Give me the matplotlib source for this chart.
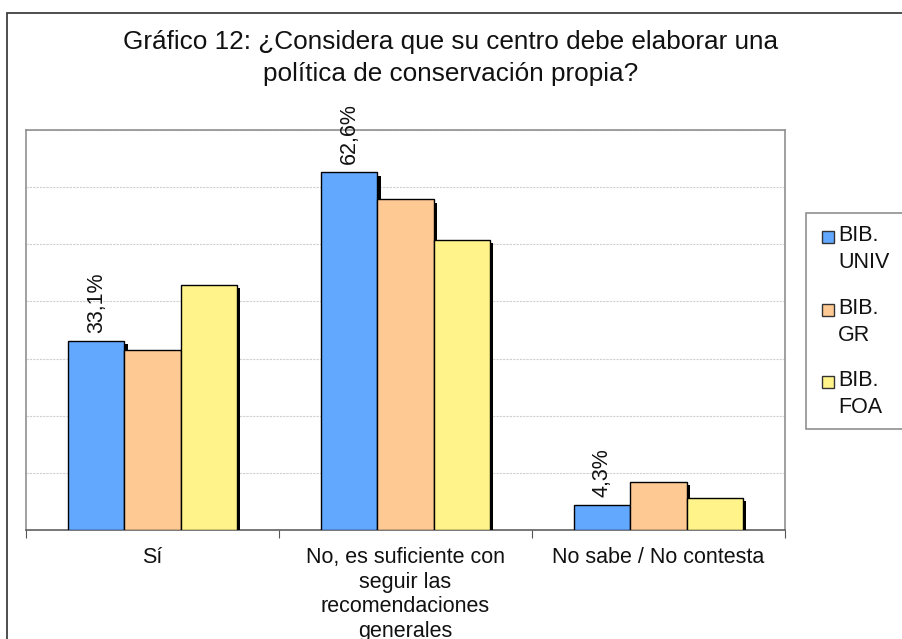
import matplotlib
matplotlib.use("Agg")
import matplotlib.pyplot as plt
import matplotlib.patheffects as pe
from matplotlib.patches import Rectangle
import numpy as np

plt.rcParams['font.family'] = ['Liberation Sans', 'DejaVu Sans']

title = "Gráfico 12: ¿Considera que su centro debe elaborar una\npolítica de conservación propia?"
categories = ["Sí", "No, es suficiente con\nseguir las\nrecomendaciones\ngenerales", "No sabe / No contesta"]
series_names = ["BIB.\nUNIV", "BIB.\nGR", "BIB.\nFOA"]
univ = [33.1, 62.6, 4.3]
gr = [31.5, 57.9, 8.4]
foa = [42.9, 50.8, 5.6]
label_series = [True, False, False]
colors = ["#62A8FF", "#FFC994", "#FFF389"]
values = [univ, gr, foa]

W, H = 902, 639
fig = plt.figure(figsize=(W / 100, H / 100), dpi=100)

# outer chart border (extends beyond bottom/right of crop)
fig.add_artist(Rectangle((7 / W, -0.1), 1.2, 1 - 13 / H + 0.1, transform=fig.transFigure,
                         fill=False, edgecolor="#404040", linewidth=1.3))

ax = fig.add_axes([26 / W, 1 - 530 / H, (785 - 26) / W, (530 - 130) / H])
ax.set_xlim(-0.5, 2.5)
ax.set_ylim(0, 70)

fs = 15.5
bw = 1 / 4.5
x = np.arange(len(categories))
for i, (vals, col, name) in enumerate(zip(values, colors, series_names)):
    bars = ax.bar(x + (i - 1) * bw, vals, width=bw, color=col, edgecolor="black",
                  linewidth=1.0, zorder=3 + i)
    for b in bars:
        b.set_path_effects([pe.SimplePatchShadow(offset=(2.5, -2.5), shadow_rgbFace="black", alpha=1.0),
                            pe.Normal()])
    if label_series[i]:
        for xi, v in zip(x, vals):
            ax.annotate(f"{v:.1f}%".replace(".", ","), (xi + (i - 1) * bw, v),
                        xytext=(0, 6), textcoords="offset points",
                        rotation=90, ha="center", va="bottom", fontsize=fs, color="#111111")

ax.set_yticks(np.arange(0, 71, 10))
ax.yaxis.grid(True, color="#D0D0D0", linewidth=0.8, linestyle=(0, (2, 1)))
ax.set_axisbelow(True)
ax.tick_params(axis="y", left=False, labelleft=False)
ax.set_xticks([-0.5, 0.5, 1.5, 2.5], minor=False)
ax.set_xticklabels([])
ax.set_xticks(x, minor=True)
ax.set_xticklabels(categories, minor=True, fontsize=fs, color="#111111", linespacing=1.24, va="top")
ax.tick_params(axis="x", which="major", length=6, color="#555555", direction="out")
ax.tick_params(axis="x", which="minor", length=0, pad=12)
for s in ["left", "top", "right"]:
    ax.spines[s].set_color("#909090")
    ax.spines[s].set_linewidth(1.2)
ax.spines["bottom"].set_color("#606060")
ax.spines["bottom"].set_linewidth(1.2)

fig.text(0.5, 1 - 58 / H, title, ha="center", va="center", fontsize=18.8, color="#111111",
         linespacing=1.38)

# legend
fig.add_artist(Rectangle((806 / W, 1 - 429 / H), 0.2, (429 - 213) / H, transform=fig.transFigure,
                         fill=True, facecolor="white", edgecolor="#909090", linewidth=1.2))
ys = [237, 310, 382]
for name, col, yy in zip(series_names, colors, ys):
    fig.add_artist(Rectangle((822 / W, 1 - (yy + 6) / H), 12 / W, 12 / H, transform=fig.transFigure,
                             facecolor=col, edgecolor="#333333", linewidth=1.0))
    fig.text(838 / W, 1 - (yy - 12) / H, name, ha="left", va="top", fontsize=fs,
             color="#111111", linespacing=1.4)

fig.savefig("out.png", dpi=100, facecolor="white")
